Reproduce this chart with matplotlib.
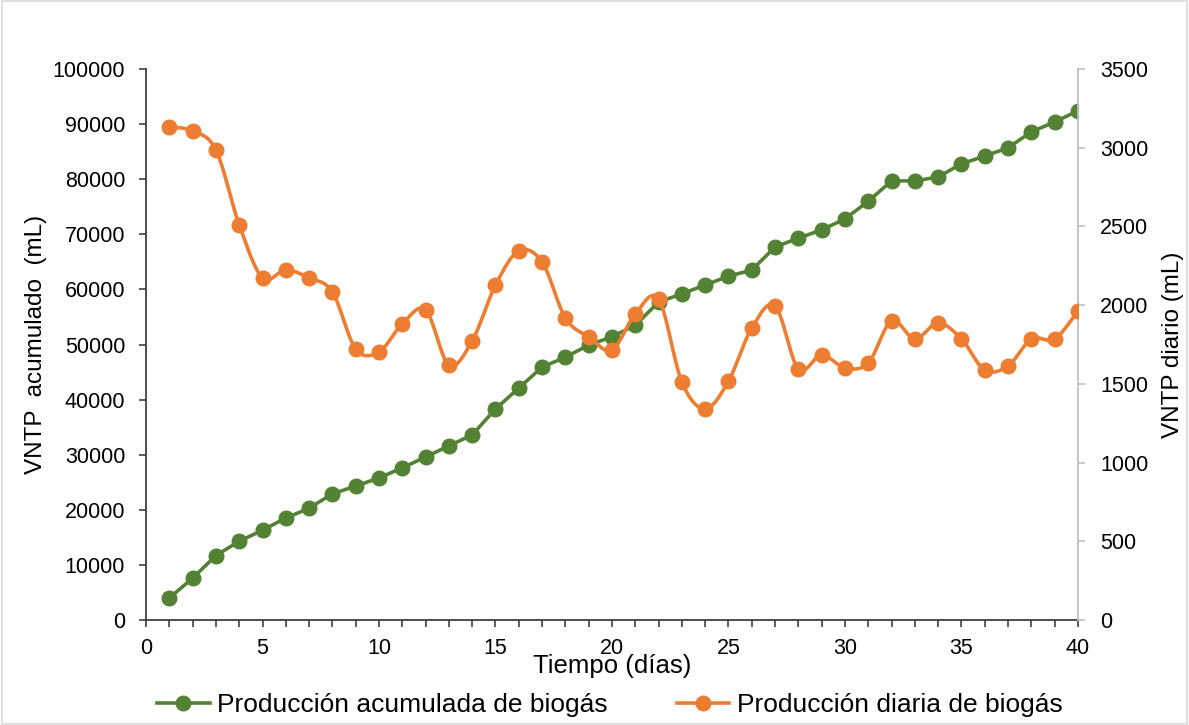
import numpy as np
import matplotlib
matplotlib.use('Agg')
import matplotlib.pyplot as plt
from matplotlib.lines import Line2D

plt.rcParams['font.family'] = ['Liberation Sans', 'DejaVu Sans']

dias = list(range(1, 41))
acumulado = [4000, 7600, 11700, 14300, 16300, 18500, 20300, 22900, 24300, 25800,
             27600, 29600, 31600, 33600, 38300, 42100, 45900, 47700, 49900, 51400,
             53500, 57700, 59200, 60800, 62400, 63500, 67700, 69300, 70800, 72800,
             76000, 79700, 79700, 80400, 82800, 84200, 85700, 88600, 90400, 92400]
diario = [3132, 3107, 2986, 2510, 2173, 2224, 2173, 2084, 1722, 1703,
          1881, 1970, 1620, 1773, 2128, 2344, 2274, 1919, 1798, 1715,
          1944, 2039, 1512, 1341, 1518, 1855, 1995, 1595, 1684, 1601,
          1633, 1900, 1785, 1887, 1785, 1588, 1614, 1785, 1785, 1963]

GREEN = '#548235'
ORANGE = '#ED7D31'


def smooth(x, y, n=20):
    # Excel-like smoothed line (Bezier through the points)
    x = np.asarray(x, float)
    y = np.asarray(y, float)
    px = np.concatenate([[x[0]], x, [x[-1]]])
    py = np.concatenate([[y[0]], y, [y[-1]]])
    xs, ys = [], []
    t = np.linspace(0, 1, n, endpoint=False)
    for i in range(1, len(px) - 2):
        p0, p1, p2, p3 = (np.array([px[j], py[j]]) for j in range(i - 1, i + 3))
        c1 = p1 + (p2 - p0) / 6
        c2 = p2 - (p3 - p1) / 6
        b = ((1 - t) ** 3)[:, None] * p1 + (3 * (1 - t) ** 2 * t)[:, None] * c1 \
            + (3 * (1 - t) * t ** 2)[:, None] * c2 + (t ** 3)[:, None] * p2
        xs.extend(b[:, 0])
        ys.extend(b[:, 1])
    xs.append(x[-1])
    ys.append(y[-1])
    return xs, ys


fig = plt.figure(figsize=(11.89, 7.25), dpi=100)
fig.patches.append(plt.Rectangle((0.002, 0.002), 0.996, 0.996, transform=fig.transFigure,
                                 fill=False, edgecolor='#D9D9D9', linewidth=1.2))
ax = fig.add_axes([0.1228, 0.1448, 0.7838, 0.76])
ax2 = ax.twinx()

ax.plot(dias, acumulado, color=GREEN, linewidth=2.6, marker='o', markersize=10.5, zorder=3)
sx, sy = smooth(dias, diario)
ax2.plot(sx, sy, color=ORANGE, linewidth=2.6, zorder=3)
ax2.plot(dias, diario, linestyle='none', color=ORANGE, marker='o', markersize=10.5, zorder=4)

ax.set_xlim(0, 40)
ax.set_ylim(0, 100000)
ax2.set_ylim(0, 3500)
ax.set_xticks(range(0, 41, 5))
ax.set_xticks(range(0, 41), minor=True)
ax.set_yticks(range(0, 100001, 10000))
ax2.set_yticks(range(0, 3501, 500))

ax.spines['top'].set_visible(False)
ax2.spines['top'].set_visible(False)
ax.spines['right'].set_visible(False)
ax2.spines['left'].set_visible(False)
ax2.spines['bottom'].set_visible(False)
ax.spines['left'].set_color('#404040')
ax.spines['bottom'].set_color('#404040')
ax2.spines['right'].set_color('#BFBFBF')
for sp in ax.spines.values():
    sp.set_linewidth(1.3)
ax2.spines['right'].set_linewidth(1.3)

ax.tick_params(axis='y', direction='out', length=5, width=1.2, color='#404040', labelsize=15.5, pad=10)
ax.tick_params(axis='x', which='both', direction='out', length=5, width=1.2, color='#404040', labelsize=15.5, pad=8)
ax2.tick_params(axis='y', direction='out', length=5, width=1.2, color='#BFBFBF', labelsize=15.5, pad=11)

ax.set_ylabel('VNTP  acumulado  (mL)', fontsize=17.5, labelpad=4)
ax2.set_ylabel('VNTP diario (mL)', fontsize=17.5, labelpad=10)
ax.set_xlabel('Tiempo (días)', fontsize=18.5, labelpad=-4)

handles = [Line2D([], [], color=GREEN, linewidth=2.6, marker='o', markersize=10.5),
           Line2D([], [], color=ORANGE, linewidth=2.6, marker='o', markersize=10.5)]
fig.legend(handles, ['Producción acumulada de biogás', 'Producción diaria de biogás'],
           loc='center', bbox_to_anchor=(0.513, 0.027), ncol=2, frameon=False,
           fontsize=19, handlelength=2.0, columnspacing=2.6, handletextpad=0.3)

fig.savefig('out.png', dpi=100)
